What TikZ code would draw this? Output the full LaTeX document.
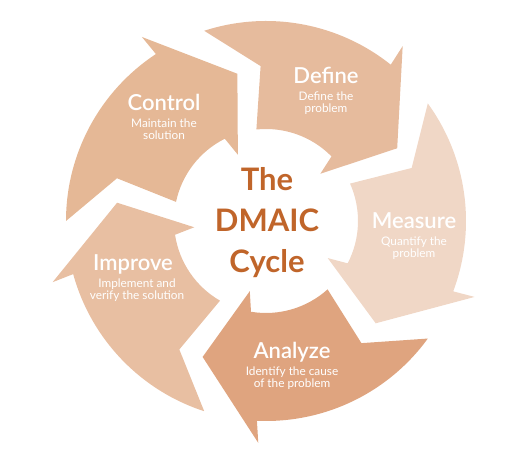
\documentclass[tikz,border=0pt]{standalone}
\usepackage{fontspec}
\setmainfont{Lato}
\newfontfamily\semifont{Lato Semibold}
\definecolor{ctrlfill}{HTML}{E5B896}
\definecolor{deffill}{HTML}{E6BB9D}
\definecolor{measfill}{HTML}{F0D7C6}
\definecolor{anlzfill}{HTML}{DFA47F}
\definecolor{imprfill}{HTML}{E8BFA2}
\definecolor{titlecol}{HTML}{C0652A}
\tikzset{
	stagehead/.style={text=white,inner sep=0pt,anchor=base,font=\semifont\fontsize{22}{26}\selectfont},
	stagesub/.style={text=white,inner sep=0pt,anchor=base,align=center,font=\fontsize{11.8}{12}\selectfont},
	cycletitle/.style={text=titlecol,inner sep=0pt,anchor=base,align=center,font=\bfseries\fontsize{31}{41}\selectfont}
}
\begin{document}
\begin{tikzpicture}[x=1pt,y=1pt]
	\useasboundingbox (0,0) rectangle (532,457);
	\begin{scope}[shift={(266,236)}]
		\foreach \a/\c in {180/ctrlfill,108/deffill,36/measfill,-36/anlzfill,-108/imprfill}
			\fill[\c] (\a:200pt) arc[start angle=\a,end angle=\a-56.6,radius=200pt] -- (\a-56:222pt) -- (\a-79:150pt) -- (\a-67:72pt) -- (\a-63.4:92pt) arc[start angle=\a-63.4,end angle=\a-12,radius=92pt] -- (\a-16:155pt) -- cycle;
	\end{scope}
	\node[stagehead] (ctrl) at (164,346) {Control};
	\node[stagesub] (ctrlsub) at ([yshift=-29pt]ctrl.base) {Maintain the\\solution};
	\node[stagehead] (def) at (326,373.4) {Define};
	\node[stagesub] (defsub) at ([yshift=-29pt]def.base) {Define the\\problem};
	\node[stagehead] (meas) at (414,228.3) {Measure};
	\node[stagesub] (meassub) at ([yshift=-29pt]meas.base) {Quantify the\\problem};
	\node[stagehead] (anlz) at (292,98) {Analyze};
	\node[stagesub] (anlzsub) at ([yshift=-29pt]anlz.base) {Identify the cause\\of the problem};
	\node[stagehead] (impr) at (133,186) {Improve};
	\node[stagesub] (imprsub) at ([xshift=4pt,yshift=-29pt]impr.base) {Implement and\\verify the solution};
	\node[cycletitle] (cycle) at (267,184) {The\\DMAIC\\Cycle};
\end{tikzpicture}
\end{document}
